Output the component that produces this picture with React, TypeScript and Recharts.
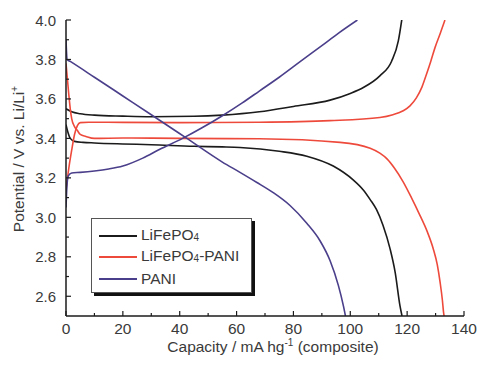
import React from 'react'
import { LineChart, Line, XAxis, YAxis, Legend } from 'recharts'

/* ------------------------------------------------------------------ */
/*  Data (capacity in mA h g-1, potential in V)                        */
/* ------------------------------------------------------------------ */

const lfpChargeCap = [0, 2, 5, 10, 20, 30, 45, 55, 68, 80, 92.9, 100, 104.6, 110.4, 114.5, 116.9, 118.1]
const lfpChargeV = [3.55, 3.535, 3.525, 3.518, 3.513, 3.51, 3.512, 3.518, 3.535, 3.562, 3.594, 3.628, 3.658, 3.717, 3.79, 3.894, 4.0]

const lfpDischargeCap = [0, 0.7, 1.5, 3, 6, 10, 20, 30, 45, 55, 61.2, 75, 84.7, 94, 101, 104.5, 107, 109.2, 111.5, 114, 115.8, 117.5, 118.2]
const lfpDischargeV = [3.47, 3.43, 3.4, 3.385, 3.38, 3.377, 3.372, 3.368, 3.36, 3.357, 3.354, 3.335, 3.31, 3.26, 3.19, 3.14, 3.09, 3.04, 2.96, 2.84, 2.72, 2.55, 2.5]

const pcChargeCap = [0, 1, 2, 3, 4, 5, 8, 20, 40, 68, 92.9, 110.4, 115, 118.6, 121, 123.3, 125.2, 126.8, 128.3, 129.8, 131.6, 133.3]
const pcChargeV = [3.14, 3.25, 3.34, 3.42, 3.465, 3.48, 3.482, 3.481, 3.48, 3.482, 3.49, 3.506, 3.52, 3.54, 3.565, 3.607, 3.66, 3.725, 3.79, 3.86, 3.93, 4.0]

const pcDischargeCap = [0, 0.5, 1, 1.5, 2, 3, 4, 5, 7, 10, 20, 40, 68, 96.4, 107, 110.4, 113, 115.5, 118.6, 121.5, 124.5, 127, 129.2, 130.6, 131.6, 132.4, 132.8, 133]
const pcDischargeV = [3.78, 3.7, 3.62, 3.55, 3.5, 3.46, 3.44, 3.42, 3.41, 3.4, 3.402, 3.4, 3.398, 3.38, 3.35, 3.325, 3.295, 3.25, 3.18, 3.1, 3.01, 2.93, 2.84, 2.76, 2.67, 2.58, 2.52, 2.5]

const paniChargeCap = [0, 0.3, 0.8, 2, 5, 10, 15, 20, 27, 33, 41, 48, 55, 62, 68, 75, 82, 90, 96, 102.5]
const paniChargeV = [3.05, 3.15, 3.21, 3.225, 3.228, 3.235, 3.245, 3.26, 3.3, 3.345, 3.4, 3.455, 3.515, 3.58, 3.64, 3.71, 3.785, 3.87, 3.935, 4.0]

const paniDischargeCap = [0, 0.4, 1.5, 10, 20, 30, 42, 55, 61.2, 67, 72.9, 78.8, 84.7, 89.4, 92.9, 95.8, 97.6, 98.3]
const paniDischargeV = [3.9, 3.8, 3.79, 3.71, 3.615, 3.52, 3.405, 3.28, 3.228, 3.178, 3.125, 3.06, 2.97, 2.88, 2.78, 2.655, 2.55, 2.5]

const xTicks = [0, 10, 20, 30, 40, 50, 60, 70, 80, 90, 100, 110, 120, 130, 140]
const yTicks = [2.6, 2.7, 2.8, 2.9, 3.0, 3.1, 3.2, 3.3, 3.4, 3.5, 3.6, 3.7, 3.8, 3.9, 4.0]

const zip = (cap: number[], v: number[]) => cap.map((c, i) => ({ c, v: v[i] }))

const BLACK = '#1b1b1b'
const RED = '#ee4a3c'
const PURPLE = '#4a3f8a'
const TEXT = '#3a3a3a'
const FONT = '"Liberation Sans", Arial, sans-serif'

const series = [
  { key: 'lfp-c', data: zip(lfpChargeCap, lfpChargeV), color: BLACK },
  { key: 'lfp-d', data: zip(lfpDischargeCap, lfpDischargeV), color: BLACK },
  { key: 'pc-c', data: zip(pcChargeCap, pcChargeV), color: RED },
  { key: 'pc-d', data: zip(pcDischargeCap, pcDischargeV), color: RED },
  { key: 'pani-c', data: zip(paniChargeCap, paniChargeV), color: PURPLE },
  { key: 'pani-d', data: zip(paniDischargeCap, paniDischargeV), color: PURPLE },
]

/* ------------------------------------------------------------------ */
/*  Ticks (drawn inward)                                               */
/* ------------------------------------------------------------------ */

function XTick({ x, y, payload }: any) {
  const v = payload.value
  const major = v % 20 === 0
  return (
    <g>
      <line x1={x} y1={y} x2={x} y2={y - (major ? 5 : 3)} stroke={BLACK} strokeWidth={1.2} />
      {major && (
        <text x={x} y={y + 17.5} textAnchor="middle" fill={TEXT} fontSize={15.5} fontFamily={FONT}>
          {v}
        </text>
      )}
    </g>
  )
}

function YTick({ x, y, payload }: any) {
  const v = payload.value
  const major = Math.round(v * 10) % 2 === 0
  return (
    <g>
      <line x1={x} y1={y} x2={x + (major ? 5 : 3)} y2={y} stroke={BLACK} strokeWidth={1.2} />
      {major && (
        <text x={x - 10} y={y + 5.5} textAnchor="end" fill={TEXT} fontSize={15} fontFamily={FONT}>
          {v.toFixed(1)}
        </text>
      )}
    </g>
  )
}

/* ------------------------------------------------------------------ */
/*  Legend                                                             */
/* ------------------------------------------------------------------ */

const legendItems = [
  { label: 'LiFePO', sub: '4', tail: '', color: BLACK },
  { label: 'LiFePO', sub: '4', tail: '-PANI', color: RED },
  { label: 'PANI', sub: '', tail: '', color: PURPLE },
]

function LegendBox() {
  return (
    <div
      style={{
        width: 159,
        height: 67,
        border: '1px solid #555',
        background: '#fff',
        boxShadow: '3px 3px 0 #111',
        fontFamily: FONT,
        fontSize: 15.5,
        lineHeight: '18px',
        color: TEXT,
        boxSizing: 'content-box',
        paddingTop: 6,
      }}
    >
      {legendItems.map((it) => (
        <div key={it.label + it.tail} style={{ display: 'flex', alignItems: 'center', height: 21.5 }}>
          <div style={{ width: 38, height: 2, background: it.color, marginLeft: 7, marginRight: 4 }} />
          <span>
            {it.label}
            {it.sub && <span style={{ fontSize: 10, position: 'relative', top: 1 }}>{it.sub}</span>}
            {it.tail}
          </span>
        </div>
      ))}
    </div>
  )
}

/* ------------------------------------------------------------------ */
/*  Chart                                                              */
/* ------------------------------------------------------------------ */

export default function App() {
  return (
    <div style={{ position: 'absolute', left: 0, top: 0, background: '#fff' }}>
      <LineChart width={477} height={365} margin={{ top: 20, right: 13, left: 0, bottom: 0 }}>
        <XAxis
          type="number"
          dataKey="c"
          domain={[0, 140]}
          ticks={xTicks}
          interval={0}
          allowDataOverflow
          height={49}
          tickSize={0}
          tickMargin={0}
          tickLine={false}
          tick={<XTick />}
          axisLine={{ stroke: BLACK, strokeWidth: 1.5 }}
          label={{
            content: () => (
              <text x={273} y={352} textAnchor="middle" fill={TEXT} fontSize={15.5} fontFamily={FONT}>
                Capacity / mA hg
                <tspan fontSize={10} dy={-6}>-1</tspan>
                <tspan dy={6}> (composite)</tspan>
              </text>
            ),
          }}
        />
        <XAxis
          xAxisId="top"
          orientation="top"
          type="number"
          domain={[0, 140]}
          height={0}
          tick={false}
          tickLine={false}
          axisLine={{ stroke: BLACK, strokeWidth: 1.5 }}
        />
        <YAxis
          type="number"
          domain={[2.5, 4.0]}
          ticks={yTicks}
          interval={0}
          allowDataOverflow
          width={66}
          tickSize={0}
          tickMargin={0}
          tickLine={false}
          tick={<YTick />}
          axisLine={{ stroke: BLACK, strokeWidth: 1.5 }}
          label={{
            content: () => (
              <text
                x={0}
                y={0}
                transform="translate(24 159) rotate(-90)"
                textAnchor="middle"
                fill={TEXT}
                fontSize={15.5}
                fontFamily={FONT}
              >
                Potential / V vs. Li/Li
                <tspan fontSize={10} dy={-6}>+</tspan>
              </text>
            ),
          }}
        />
        <YAxis
          yAxisId="right"
          orientation="right"
          type="number"
          domain={[2.5, 4.0]}
          width={0}
          tick={false}
          tickLine={false}
          axisLine={{ stroke: BLACK, strokeWidth: 1.5 }}
        />
        <Legend
          layout="vertical"
          verticalAlign="middle"
          align="center"
          content={<LegendBox />}
          wrapperStyle={{ position: 'absolute', left: 91, top: 218, width: 'auto' }}
        />
        {series.map((s) => (
          <Line
            key={s.key}
            data={s.data}
            dataKey="v"
            type="monotone"
            stroke={s.color}
            strokeWidth={1.6}
            dot={false}
            activeDot={false}
            isAnimationActive={false}
            legendType="none"
          />
        ))}
      </LineChart>
    </div>
  )
}
